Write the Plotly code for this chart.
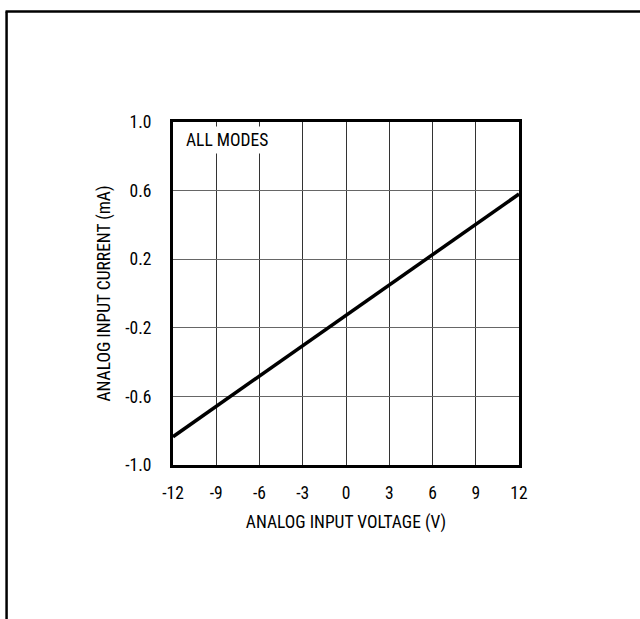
import plotly.graph_objects as go

# Data
voltage = [-12, 12]
current = [-0.835, 0.58]
x_ticks = [-12, -9, -6, -3, 0, 3, 6, 9, 12]
y_ticks = [1.0, 0.6, 0.2, -0.2, -0.6, -1.0]
y_tick_labels = ["1.0", "0.6", "0.2", "-0.2", "-0.6", "-1.0"]

FONT = "Roboto Condensed, Liberation Sans Narrow, Arial Narrow, sans-serif"
FS = 17.5

fig = go.Figure()
fig.add_trace(go.Scatter(x=voltage, y=current, mode="lines",
                         line=dict(color="black", width=3.5),
                         showlegend=False, hoverinfo="skip"))

fig.update_layout(
    width=640, height=619,
    margin=dict(l=173, r=121, t=122, b=154),
    paper_bgcolor="white", plot_bgcolor="white",
    font=dict(family=FONT, size=FS, color="black"),
    xaxis=dict(range=[-12, 12], tickvals=x_ticks, ticktext=[str(v) for v in x_ticks],
               showgrid=True, gridcolor="#333", gridwidth=1,
               showline=True, linecolor="black", linewidth=3, mirror=True,
               zeroline=False, ticks="", ticklen=0, ticklabelstandoff=10,
               title=dict(text="ANALOG INPUT VOLTAGE (V)", standoff=14,
                          font=dict(family=FONT, size=FS)),
               tickfont=dict(family=FONT, size=FS)),
    yaxis=dict(range=[-1.0, 1.0], tickvals=y_ticks, ticktext=y_tick_labels,
               showgrid=True, gridcolor="#666", gridwidth=1,
               showline=True, linecolor="black", linewidth=3, mirror=True,
               zeroline=False, ticks="", ticklen=0, ticklabelstandoff=15,
               title=dict(text="ANALOG INPUT CURRENT (mA)", standoff=11,
                          font=dict(family=FONT, size=FS)),
               tickfont=dict(family=FONT, size=FS)),
    annotations=[dict(x=-11.4, y=0.895, xref="x", yref="y", text="ALL MODES",
                      showarrow=False, xanchor="left", yanchor="middle",
                      bgcolor="white", borderpad=3,
                      font=dict(family=FONT, size=FS, color="black"))],
    shapes=[
        dict(type="line", xref="paper", yref="paper",
             x0=-0.481, x1=-0.481, y0=1.322, y1=-0.5,
             line=dict(color="black", width=2.5)),
        dict(type="line", xref="paper", yref="paper",
             x0=-0.484, x1=1.4, y0=1.322, y1=1.322,
             line=dict(color="black", width=2.5)),
    ],
)

fig.write_html("out.html", config={"displayModeBar": False},
               post_script="document.body.style.margin='0';")
